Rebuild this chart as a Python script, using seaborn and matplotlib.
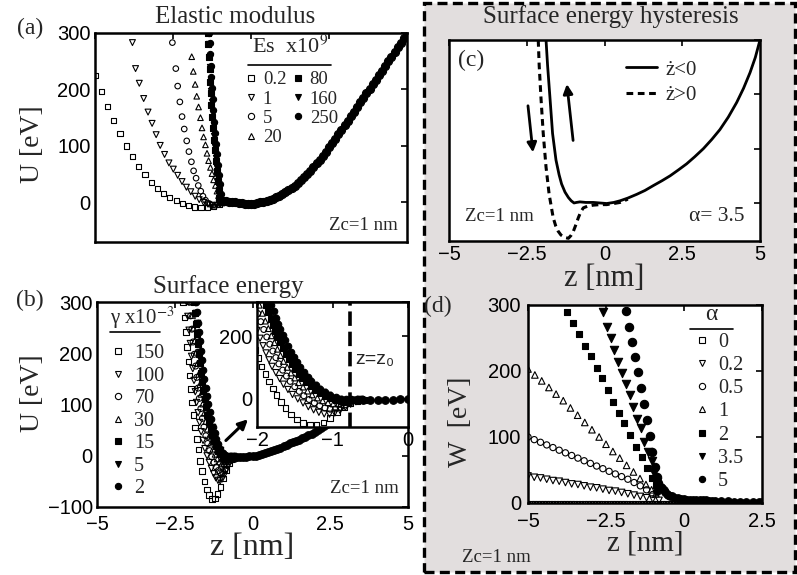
import matplotlib
matplotlib.use("Agg")
import matplotlib.pyplot as plt
from matplotlib.lines import Line2D
from matplotlib.patches import Rectangle
import seaborn as sns

# %% data -- (a) elastic modulus, U [eV] vs z [nm]
a_z_02 = [-5.0, -4.8, -4.6, -4.4, -4.2, -4.0, -3.8, -3.6, -3.4, -3.2, -3.0, -2.8, -2.6, -2.4, -2.2, -2.0, -1.8, -1.6, -1.4, -1.2, -1.0]
a_u_02 = [225, 197, 170, 145, 122, 100, 81, 64, 49, 36, 25, 16, 9, 3, -2, -6, -8, -9, -9, -7, -4]
a_z_1 = [-3.80, -3.70, -3.58, -3.44, -3.30, -3.17, -3.04, -2.91, -2.77, -2.63, -2.49, -2.35, -2.21, -2.07, -1.93, -1.79, -1.66, -1.52, -1.38, -1.24, -1.10, -0.98]
a_u_1 = [283, 237, 211, 184, 160, 140, 120, 101, 85, 70, 59, 48, 37, 27, 19, 11, 5, 0, -3, -5, -5, -2]
a_z_5 = [-2.52, -2.41, -2.35, -2.28, -2.21, -2.14, -2.06, -1.99, -1.91, -1.84, -1.76, -1.69, -1.61, -1.54, -1.46, -1.39, -1.31, -1.23, -1.15, -1.07, -0.99]
a_u_5 = [283, 237, 206, 178, 152, 130, 109, 90, 72, 56, 43, 30, 20, 11, 4, -1, -3, -5, -5, -4, -1]
a_z_20 = [-1.90, -1.85, -1.79, -1.74, -1.68, -1.62, -1.57, -1.52, -1.46, -1.41, -1.36, -1.30, -1.25, -1.20, -1.14, -1.09, -1.04, -0.98, -0.93]
a_u_20 = [258, 232, 209, 188, 169, 150, 132, 116, 102, 87, 74, 62, 51, 40, 30, 20, 12, 4, -1]
a_z_80 = [-1.39, -1.37, -1.35, -1.33, -1.31, -1.29, -1.27, -1.25, -1.22, -1.19, -1.16, -1.13, -1.10, -1.07, -1.04, -1.01]
a_u_80 = [300, 280, 258, 236, 214, 193, 172, 152, 131, 111, 92, 73, 55, 38, 22, 8]
a_z_160 = [-1.37, -1.35, -1.33, -1.31, -1.29, -1.27, -1.25, -1.23, -1.20, -1.17, -1.14, -1.11, -1.08, -1.05, -1.02, -0.99]
a_u_160 = [300, 281, 260, 239, 218, 198, 178, 158, 137, 117, 98, 79, 61, 44, 27, 12]
a_z_250 = [-1.35, -1.33, -1.31, -1.29, -1.27, -1.25, -1.23, -1.21, -1.18, -1.15, -1.12, -1.09, -1.06, -1.03, -1.00, -0.97]
a_u_250 = [300, 282, 262, 242, 222, 202, 183, 164, 143, 123, 104, 85, 67, 49, 32, 15]
# shared branch of all seven curves
a_band_z = [-1.0, -0.9, -0.8, -0.7, -0.6, -0.5, -0.4, -0.3, -0.2, -0.1, 0.0, 0.1, 0.2, 0.3, 0.4, 0.5, 0.6, 0.7, 0.8, 0.9,
            1.0, 1.1, 1.2, 1.3, 1.4, 1.5, 1.6, 1.7, 1.8, 1.9, 2.0, 2.1, 2.2, 2.3, 2.4, 2.5, 2.6, 2.7, 2.8, 2.9,
            3.0, 3.1, 3.2, 3.3, 3.4, 3.5, 3.6, 3.7, 3.8, 3.9, 4.0, 4.1, 4.2, 4.3, 4.4, 4.5, 4.6, 4.7, 4.8, 4.9, 5.0]
a_band_u = [4, 3, 2, 1, 1, 0, -1, -1, -2, -2, -2, -2, -1, 0, 1, 3, 5, 7, 10, 12,
            15, 18, 22, 26, 30, 35, 40, 45, 51, 56, 62, 69, 75, 82, 90, 98, 105, 113, 121, 129,
            137, 145, 153, 161, 169, 177, 185, 193, 201, 209, 217, 225, 233, 242, 250, 258, 266, 275, 283, 292, 300]
a_labels = ["0.2", "1", "5", "20", "80", "160", "250"]

# %% (b) surface energy
b_z_150 = [-2.23, -2.18, -2.14, -2.10, -2.06, -2.02, -1.98, -1.94, -1.89, -1.84, -1.79, -1.74, -1.68, -1.62, -1.55, -1.47, -1.39, -1.30, -1.21, -1.12, -1.03, -0.94, -0.85, -0.76, -0.67, -0.58]
b_u_150 = [300, 270, 241, 212, 184, 157, 130, 104, 79, 55, 33, 12, -10, -30, -50, -66, -77, -84, -83, -75, -61, -44, -28, -15, -7, -3]
b_z_100 = [-2.12, -2.08, -2.04, -2.00, -1.96, -1.92, -1.88, -1.84, -1.80, -1.75, -1.70, -1.65, -1.59, -1.53, -1.46, -1.39, -1.32, -1.25, -1.18, -1.11, -1.04, -0.97, -0.90, -0.83, -0.76, -0.69, -0.62]
b_u_100 = [300, 272, 245, 219, 194, 170, 147, 125, 104, 84, 65, 47, 30, 14, 0, -13, -25, -35, -43, -48, -49, -45, -37, -27, -17, -9, -4]
b_z_70 = [-2.03, -1.99, -1.95, -1.91, -1.87, -1.83, -1.79, -1.75, -1.71, -1.66, -1.61, -1.56, -1.50, -1.44, -1.38, -1.31, -1.24, -1.17, -1.10, -1.03, -0.96, -0.89, -0.82, -0.75, -0.68, -0.61]
b_u_70 = [300, 273, 247, 222, 198, 175, 153, 132, 112, 92, 73, 56, 39, 24, 10, -2, -13, -22, -29, -33, -32, -27, -19, -11, -6, -3]
b_z_30 = [-1.97, -1.93, -1.89, -1.85, -1.81, -1.77, -1.73, -1.69, -1.65, -1.60, -1.55, -1.50, -1.45, -1.39, -1.33, -1.27, -1.20, -1.13, -1.06, -0.99, -0.92, -0.85, -0.78, -0.71, -0.64]
b_u_30 = [300, 274, 249, 225, 202, 180, 159, 139, 120, 101, 83, 67, 52, 38, 25, 13, 3, -6, -12, -16, -15, -11, -6, -3, -2]
b_z_15 = [-1.88, -1.85, -1.82, -1.79, -1.76, -1.73, -1.70, -1.66, -1.62, -1.58, -1.54, -1.50, -1.45, -1.40, -1.35, -1.29, -1.23, -1.17, -1.10, -1.03, -0.96, -0.89, -0.82, -0.75, -0.68]
b_u_15 = [300, 278, 257, 237, 218, 199, 181, 162, 144, 127, 111, 95, 80, 66, 53, 40, 29, 19, 10, 3, -3, -6, -6, -4, -2]
b_z_5 = [-1.84, -1.81, -1.78, -1.75, -1.72, -1.69, -1.66, -1.62, -1.58, -1.54, -1.50, -1.46, -1.41, -1.36, -1.31, -1.25, -1.19, -1.13, -1.06, -0.99, -0.92, -0.85, -0.78, -0.71, -0.64]
b_u_5 = [300, 279, 259, 240, 221, 203, 185, 166, 148, 131, 115, 99, 84, 70, 56, 43, 31, 21, 12, 4, -1, -3, -3, -2, -1]
b_z_2 = [-1.81, -1.78, -1.75, -1.72, -1.69, -1.66, -1.63, -1.59, -1.55, -1.51, -1.47, -1.43, -1.38, -1.33, -1.28, -1.22, -1.16, -1.10, -1.03, -0.96, -0.89, -0.82, -0.75, -0.68, -0.61]
b_u_2 = [300, 280, 260, 241, 223, 205, 187, 168, 150, 133, 117, 101, 86, 71, 57, 44, 32, 22, 13, 6, 1, -1, -1, -1, -1]
b_band_z = [-0.6, -0.5, -0.4, -0.3, -0.2, -0.1, 0.0, 0.1, 0.2, 0.3, 0.4, 0.5, 0.6, 0.7, 0.8, 0.9, 1.0, 1.1, 1.2, 1.3,
            1.4, 1.5, 1.6, 1.7, 1.8, 1.9, 2.0, 2.1, 2.2, 2.3, 2.4]
b_band_u = [-4, -3, -3, -2, -2, -1, -1, 0, 1, 3, 5, 7, 9, 11, 14, 16, 19, 21, 24, 26,
            29, 31, 34, 37, 40, 43, 46, 50, 54, 58, 62]
b_labels = ["150", "100", "70", "30", "15", "5", "2"]
b_z0 = -0.77

# %% (c) hysteresis, alpha = 3.5
c_z_in = [-1.88, -1.83, -1.75, -1.67, -1.56, -1.46, -1.38, -1.27, -1.16, -1.07, -0.98, -0.90, -0.79, -0.60, -0.36, -0.15, 0.07, 0.30, 0.50,
          0.75, 1.04, 1.30, 1.57, 1.85, 2.11, 2.38, 2.64, 2.90, 3.18, 3.45, 3.71, 3.98, 4.25, 4.47, 4.68, 4.85, 5.0]
c_u_in = [300, 253, 191, 128, 79, 52, 35, 20, 10, 4, 0, 1, 2, 1, 1, 0, -1, 1, 4,
          9, 16, 23, 32, 41, 50, 61, 72, 85, 100, 117, 135, 158, 185, 211, 240, 268, 300]
c_z_out = [-2.13, -2.10, -2.04, -1.97, -1.88, -1.78, -1.65, -1.57, -1.49, -1.40, -1.32, -1.24, -1.16, -1.08, -1.00, -0.92, -0.84,
           -0.76, -0.68, -0.55, -0.36, -0.15, 0.07, 0.30, 0.50, 0.75]
c_u_out = [300, 253, 191, 128, 66, 16, -27, -42, -52, -59, -62, -64, -65, -60, -52, -40, -27,
           -16, -9, -6, -4, -3, -3, -1, 1, 7]
c_labels = ["ż<0", "ż>0"]

# %% (d) W [eV] vs z [nm] for several alpha
d_z_0 = [-5.0, -4.9, -4.8, -4.7, -4.6, -4.5, -4.4, -4.3, -4.2, -4.1, -4.0, -3.9, -3.8, -3.7, -3.6, -3.5, -3.4, -3.3, -3.2, -3.1,
         -3.0, -2.9, -2.8, -2.7, -2.6, -2.5, -2.4, -2.3, -2.2, -2.1, -2.0, -1.9, -1.8, -1.7, -1.6, -1.5, -1.4, -1.3, -1.2, -1.1,
         -1.0, -0.9, -0.8, -0.7, -0.6, -0.5, -0.4, -0.3, -0.2, -0.1, 0.0, 0.1, 0.2, 0.3, 0.4, 0.5, 0.6, 0.7, 0.8, 0.9,
         1.0, 1.1, 1.2, 1.3, 1.4, 1.5, 1.6, 1.7, 1.8, 1.9, 2.0, 2.1, 2.2, 2.3, 2.4, 2.5]
d_w_0 = [0, 0, 0, 0, 0, 0, 0, 0, 0, 0, 0, 0, 0, 0, 0, 0, 0, 0, 0, 0,
         0, 0, 0, 0, 0, 0, 0, 0, 0, 0, 0, 0, 0, 0, 0, 0, 0, 0, 0, 0,
         0, 0, 0, 0, 0, 0, 0, 0, 0, 0, 0, 0, 0, 0, 0, 0, 0, 0, 0, 0,
         0, 0, 0, 0, 0, 0, 0, 0, 0, 0, 0, 0, 0, 0, 0, 0]
d_z_02 = [-5.0, -4.8, -4.6, -4.4, -4.2, -4.0, -3.8, -3.6, -3.4, -3.2, -3.0, -2.8, -2.6, -2.4, -2.2, -2.0, -1.8, -1.6, -1.4, -1.2, -1.0, -0.8]
d_w_02 = [41, 39, 38, 36, 34, 33, 31, 29, 28, 26, 24, 23, 21, 19, 18, 16, 14, 12, 10, 8, 6, 4]
d_z_05 = [-5.0, -4.8, -4.6, -4.4, -4.2, -4.0, -3.8, -3.6, -3.4, -3.2, -3.0, -2.8, -2.6, -2.4, -2.2, -2.0, -1.8, -1.6, -1.4, -1.2, -1.0]
d_w_05 = [100, 96, 92, 88, 84, 80, 76, 72, 68, 64, 60, 56, 52, 48, 44, 40, 36, 31, 26, 20, 13]
d_z_1 = [-5.0, -4.78, -4.56, -4.33, -4.10, -3.87, -3.64, -3.41, -3.18, -2.95, -2.72, -2.50, -2.28, -2.06, -1.84, -1.62, -1.41, -1.22, -1.04, -0.90]
d_w_1 = [203, 194, 185, 175, 165, 155, 144, 133, 122, 111, 100, 89, 78, 68, 57, 47, 37, 28, 20, 14]
d_z_2 = [-3.76, -3.57, -3.38, -3.18, -2.99, -2.80, -2.62, -2.44, -2.27, -2.08, -1.91, -1.73, -1.55, -1.36, -1.18, -1.02, -0.90]
d_w_2 = [290, 272, 256, 238, 222, 205, 189, 171, 153, 136, 121, 103, 85, 69, 53, 38, 28]
d_z_35 = [-2.59, -2.46, -2.35, -2.23, -2.12, -2.00, -1.86, -1.73, -1.62, -1.52, -1.39, -1.27, -1.16, -1.04, -0.95, -0.88]
d_w_35 = [289, 267, 250, 232, 214, 197, 180, 164, 146, 128, 113, 93, 78, 63, 45, 32]
d_z_5 = [-1.87, -1.76, -1.67, -1.57, -1.47, -1.38, -1.29, -1.20, -1.09, -1.01, -0.93, -0.86, -0.82]
d_w_5 = [291, 267, 244, 221, 198, 174, 150, 126, 101, 78, 55, 40, 30]
d_tail_z = [-0.85, -0.80, -0.75, -0.70, -0.65, -0.60, -0.55, -0.50, -0.45, -0.40, -0.30, -0.20, -0.10, 0.0, 0.1, 0.2, 0.3, 0.4,
            0.5, 0.6, 0.7, 0.8, 0.9, 1.0, 1.2, 1.4, 1.6, 1.8, 2.0, 2.2, 2.4, 2.5]
d_tail_w = [18, 24, 25, 22, 19, 16, 14, 12, 11, 10, 8, 7, 6, 6, 5, 5, 5, 4,
            4, 4, 4, 3, 3, 3, 3, 3, 2, 2, 2, 2, 2, 2]
d_labels = ["0", "0.2", "0.5", "1", "2", "3.5", "5"]

z_ticks = [-5, -2.5, 0, 2.5, 5]
z_ticklabels = ["\u22125", "\u22122.5", "0", "2.5", "5"]

# %% style
sns.set_style("white")
plt.rcParams["font.family"] = ["Liberation Serif", "DejaVu Serif"]
plt.rcParams["mathtext.fontset"] = "stix"

W, H = 797, 575
fig = plt.figure(figsize=(W / 100, H / 100), dpi=100)
fig.patch.set_facecolor("white")

SANS = ["Liberation Sans", "DejaVu Sans"]


def axes_px(x0, y0, x1, y1):
    return fig.add_axes([x0 / W, 1 - y1 / H, (x1 - x0) / W, (y1 - y0) / H])


def fxy(x, y):
    return (x / W, 1 - y / H)


def frame(ax):
    for sp in ax.spines.values():
        sp.set_visible(True)
        sp.set_linewidth(1.8)
        sp.set_color("black")
    ax.tick_params(direction="in", length=4, width=1.2, top=True, right=True,
                   labelsize=14.5, labelfontfamily="Liberation Sans", pad=3, colors="black")


def dots(ax, z, u, marker, filled, s, lw=0.8):
    sns.scatterplot(x=z, y=u, ax=ax, marker=marker, s=s, legend=False,
                    facecolor="black" if filled else "none", edgecolor="black",
                    linewidth=lw, zorder=3)


def proxy(marker, filled, ms):
    return Line2D([], [], ls="none", marker=marker, ms=ms, mew=0.8,
                  mfc="black" if filled else "none", mec="black")


def underline(x0, x1, y):
    fig.add_artist(Line2D([x0 / W, x1 / W], [1 - y / H] * 2, color="black", lw=1.2))


# right half: grey box with dashed border
fig.add_artist(Rectangle(fxy(424, 572), (795 - 424) / W, (572 - 3) / H, transform=fig.transFigure,
                         facecolor="#e2dede", edgecolor="black", lw=2.4, ls=(0, (3, 1.6)), zorder=-5))

# %% (a)
ax_a = axes_px(95, 33, 407, 242)
a_series = [(a_z_02, a_u_02, "s", False, 14), (a_z_1, a_u_1, "v", False, 18), (a_z_5, a_u_5, "o", False, 16),
            (a_z_20, a_u_20, "^", False, 16), (a_z_80, a_u_80, "s", True, 16), (a_z_160, a_u_160, "v", True, 20),
            (a_z_250, a_u_250, "o", True, 20)]
for z, u, m, f, s in a_series:
    dots(ax_a, z, u, m, f, s)
dots(ax_a, a_band_z, a_band_u, "o", True, 34)
ax_a.set_xlim(-5, 5)
ax_a.set_ylim(-70, 300)
ax_a.set_xticks(z_ticks)
ax_a.set_xticklabels([])
ax_a.set_yticks([0, 100, 200, 300])
ax_a.set_ylabel("U [eV]", fontsize=20)
ax_a.yaxis.set_label_coords(-0.16, 0.47)
frame(ax_a)
ax_a.legend([proxy(m, f, 4.5) for _, _, m, f, _ in a_series], a_labels, ncol=2, loc="upper left",
            bbox_to_anchor=fxy(245, 71), bbox_transform=fig.transFigure, frameon=False,
            fontsize=13.5, handlelength=0.6, handletextpad=0.35, labelspacing=0.12, columnspacing=0.3,
            borderpad=0, borderaxespad=0)
fig.text(*fxy(290, 47), "Es  x10$^9$", fontsize=16, ha="center", va="center")
underline(248, 331, 65)
ax_a.text(0.97, 0.08, "Zc=1 nm", transform=ax_a.transAxes, ha="right", va="center", fontsize=13.5)

# %% (b)
ax_b = axes_px(97, 302, 408, 507)
b_series = [(b_z_150, b_u_150, "s", False, 16), (b_z_100, b_u_100, "v", False, 20), (b_z_70, b_u_70, "o", False, 18),
            (b_z_30, b_u_30, "^", False, 18), (b_z_15, b_u_15, "s", True, 16), (b_z_5, b_u_5, "v", True, 22),
            (b_z_2, b_u_2, "o", True, 22)]
ax_in = axes_px(257, 302, 408, 427)
for ax in (ax_b, ax_in):
    for z, u, m, f, s in b_series:
        dots(ax, z, u, m, f, s)
    dots(ax, b_band_z, b_band_u, "o", True, 30)
ax_b.set_xlim(-5, 5)
ax_b.set_ylim(-100, 300)
ax_b.set_xticks(z_ticks)
ax_b.set_xticklabels(z_ticklabels)
ax_b.set_yticks([-100, 0, 100, 200, 300])
ax_b.set_yticklabels(["\u2212100", "0", "100", "200", "300"])
ax_b.set_xlabel("z [nm]", fontsize=23)
ax_b.xaxis.set_label_coords(0.5, -0.125)
ax_b.set_ylabel("U [eV]", fontsize=20)
ax_b.yaxis.set_label_coords(-0.167, 0.556)
frame(ax_b)
ax_b.tick_params(axis="x", pad=6)
ax_b.legend([proxy(m, f, 4.5) for _, _, m, f, _ in b_series], b_labels, loc="upper left",
            bbox_to_anchor=fxy(112, 344), bbox_transform=fig.transFigure, frameon=False,
            fontsize=14.5, handlelength=0.6, handletextpad=0.5, labelspacing=0.17,
            borderpad=0, borderaxespad=0)
fig.text(*fxy(110, 318), "\u03b3 x10$^{-3}$", fontsize=15, ha="left", va="center")
underline(110, 160, 332)
ax_b.text(0.97, 0.09, "Zc=1 nm", transform=ax_b.transAxes, ha="right", va="center", fontsize=13.5)
ax_b.annotate("", xy=(-0.08, 75), xytext=(-0.92, 26),
              arrowprops=dict(arrowstyle="-|>", lw=2.2, color="black", mutation_scale=14))

ax_in.set_facecolor("white")
ax_in.set_xlim(-2, 0)
ax_in.set_ylim(-90, 310)
ax_in.set_xticks([-2, -1, 0])
ax_in.set_xticklabels(["\u22122", "\u22121", "0"])
ax_in.set_yticks([0, 200])
frame(ax_in)
ax_in.axvline(b_z0, color="black", lw=2.6, ls=(0, (4, 1.6)), zorder=4)
ax_in.text(-0.7, 125, "z=z\u2080", family=SANS, fontsize=14, ha="left", va="center")

# %% (c)
ax_c = axes_px(449, 40, 760, 241)
ax_c.set_facecolor("white")
sns.lineplot(x=c_z_out, y=c_u_out, ax=ax_c, sort=False, estimator=None, color="black", lw=2.2,
             linestyle=(0, (2.2, 1.5)))
sns.lineplot(x=c_z_in, y=c_u_in, ax=ax_c, sort=False, estimator=None, color="black", lw=2.0)
ax_c.set_xlim(-5, 5)
ax_c.set_ylim(-70, 300)
ax_c.set_xticks(z_ticks)
ax_c.set_xticklabels(z_ticklabels)
ax_c.set_yticks([0, 100, 200, 300])
ax_c.set_yticklabels([])
ax_c.set_xlabel("z [nm]", fontsize=22)
ax_c.xaxis.set_label_coords(0.5, -0.112)
frame(ax_c)
ax_c.legend([Line2D([], [], color="black", lw=2.0), Line2D([], [], color="black", lw=2.2, ls=(0, (2.2, 1.5)))],
            c_labels, loc="upper left", bbox_to_anchor=fxy(626, 60), bbox_transform=fig.transFigure,
            frameon=False, fontsize=15, handlelength=1.5, handletextpad=0.4, labelspacing=0.3,
            borderpad=0, borderaxespad=0)
ax_c.annotate("", xy=(-2.29, 88), xytext=(-2.47, 184),
              arrowprops=dict(arrowstyle="-|>", lw=2.0, color="black", mutation_scale=14))
ax_c.annotate("", xy=(-1.22, 224), xytext=(-1.0, 110),
              arrowprops=dict(arrowstyle="-|>", lw=2.0, color="black", mutation_scale=14))
ax_c.text(0.03, 0.9, "(c)", transform=ax_c.transAxes, fontsize=17, ha="left", va="center")
ax_c.text(0.05, 0.12, "Zc=1 nm", transform=ax_c.transAxes, fontsize=13.5, ha="left", va="center")
ax_c.text(0.95, 0.12, "\u03b1= 3.5", transform=ax_c.transAxes, fontsize=15.5, ha="right", va="center")

# %% (d)
ax_d = axes_px(528, 305, 762, 503)
ax_d.set_facecolor("white")
d_series = [(d_z_0, d_w_0, "s", False, 12), (d_z_02, d_w_02, "v", False, 22), (d_z_05, d_w_05, "o", False, 20),
            (d_z_1, d_w_1, "^", False, 22), (d_z_2, d_w_2, "s", True, 22), (d_z_35, d_w_35, "v", True, 36),
            (d_z_5, d_w_5, "o", True, 36)]
for z, w, m, f, s in d_series:
    dots(ax_d, z, w, m, f, s)
dots(ax_d, d_tail_z, d_tail_w, "o", True, 30)
ax_d.set_xlim(-5, 2.5)
ax_d.set_ylim(0, 300)
ax_d.set_xticks([-5, -2.5, 0, 2.5])
ax_d.set_xticklabels(["\u22125", "\u22122.5", "0", "2.5"])
ax_d.set_yticks([0, 100, 200, 300])
ax_d.set_xlabel("z [nm]", fontsize=21)
ax_d.xaxis.set_label_coords(0.5, -0.14)
ax_d.set_ylabel("W  [eV]", fontsize=20)
ax_d.yaxis.set_label_coords(-0.235, 0.41)
frame(ax_d)
ax_d.tick_params(axis="x", pad=6.5)
ax_d.tick_params(axis="y", pad=5)
ax_d.legend([proxy(m, f, 4.5) for _, _, m, f, _ in d_series], d_labels, loc="upper left",
            bbox_to_anchor=fxy(696, 333), bbox_transform=fig.transFigure, frameon=False,
            fontsize=14.5, handlelength=0.6, handletextpad=0.5, labelspacing=0.2,
            borderpad=0, borderaxespad=0)
fig.text(*fxy(711, 314), "\u03b1", fontsize=17, ha="center", va="center")
underline(690, 733, 329)
fig.text(*fxy(462, 558), "Zc=1 nm", fontsize=13.5, ha="left", va="center")

# %% titles and panel letters
fig.text(*fxy(235, 17), "Elastic modulus", fontsize=18, ha="center", va="center")
fig.text(*fxy(228, 287), "Surface energy", fontsize=18, ha="center", va="center")
fig.text(*fxy(611, 17), "Surface energy hysteresis", fontsize=18, ha="center", va="center")
fig.text(*fxy(30, 28), "(a)", fontsize=17, ha="center", va="center")
fig.text(*fxy(30, 300), "(b)", fontsize=17, ha="center", va="center")
fig.text(*fxy(438, 306), "(d)", fontsize=17, ha="center", va="center")

fig.savefig("out.png", dpi=100)
